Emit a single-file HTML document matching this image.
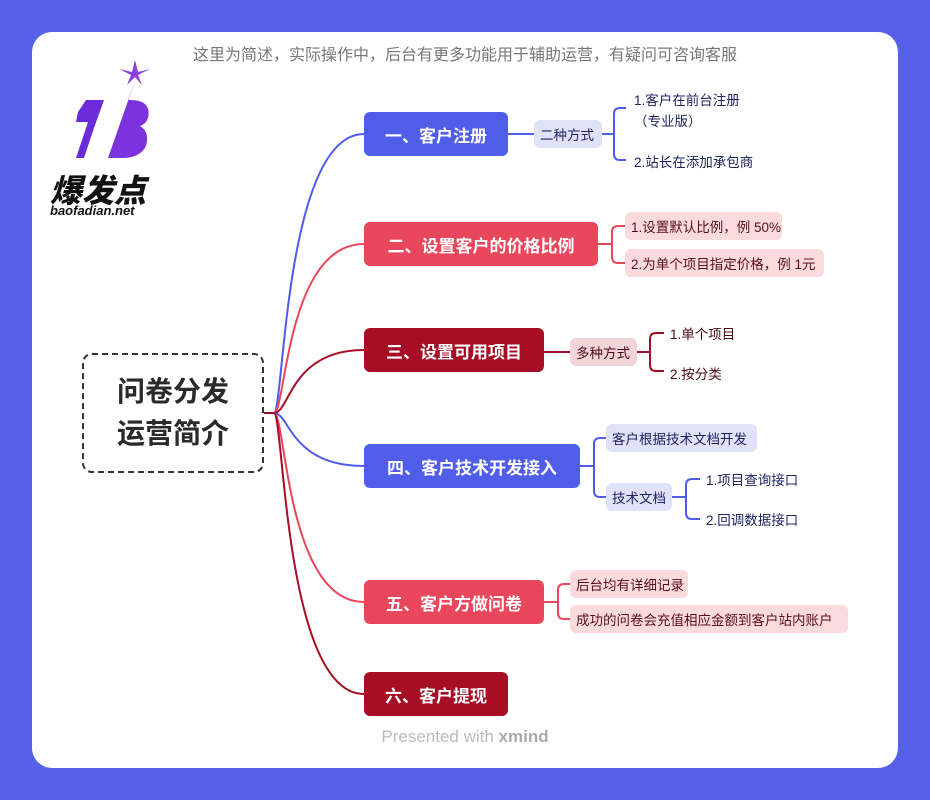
<!DOCTYPE html>
<html><head><meta charset="utf-8"><style>
body{margin:0;width:930px;height:800px;background:#5660e8;font-family:"Liberation Sans","Noto Sans CJK SC",sans-serif;position:relative;overflow:hidden}
.card{position:absolute;left:32px;top:32px;width:866px;height:736px;background:#fff;border-radius:20px}
.a{position:absolute;white-space:nowrap}
.n{position:absolute;color:#fff;font-weight:bold;font-size:17px;border-radius:6px;display:flex;align-items:center;justify-content:center;height:44px}
.s{position:absolute;font-size:13.5px;border-radius:6px;display:flex;align-items:center;padding:0 6px;height:28px;box-sizing:border-box;white-space:nowrap}
.t{position:absolute;font-size:13.5px;white-space:nowrap}
</style></head><body>
<div class="card"></div>
<div class="a" style="left:0;width:930px;text-align:center;top:41px;font-size:16px;color:#777">这里为简述，实际操作中，后台有更多功能用于辅助运营，有疑问可咨询客服</div>
<svg class="a" style="left:0;top:0" width="930" height="800">
<g fill="none" stroke-width="2">
<path d="M264 413H274" stroke="#a50e24"/>
<path d="M274 413C284 413 284 134 364 134" stroke="#4f5de8"/>
<path d="M274 413C286 413 286 244 364 244" stroke="#e8475c"/>
<path d="M274 413C290 413 290 350 364 350" stroke="#a50e24"/>
<path d="M274 413C290 413 290 466 364 466" stroke="#4f5de8"/>
<path d="M274 413C286 413 286 602 364 602" stroke="#e8475c"/>
<path d="M274 413C284 413 284 694 364 694" stroke="#a50e24"/>
<path d="M508 134H534M602 134H614M626 108H620Q614 108 614 114V154Q614 160 620 160H626" stroke="#4f5de8"/>
<path d="M598 244H612M625 226H618Q612 226 612 232V257Q612 263 618 263H625" stroke="#e8475c"/>
<path d="M544 352H570M637 352H650M664 333H656Q650 333 650 339V365Q650 371 656 371H664" stroke="#a50e24"/>
<path d="M580 466H594M606 438H600Q594 438 594 444V491Q594 497 600 497H606M672 497H686M700 479H692Q686 479 686 485V513Q686 519 692 519H700" stroke="#4f5de8"/>
<path d="M544 602H558M570 584H564Q558 584 558 590V613Q558 619 564 619H570" stroke="#e8475c"/>
</g>
<path d="M78 112L86 100H104L94 128L84 158H76L88 122H76Z" fill="#6c2bd9"/>
<path d="M108 158L136 78L128 100H130Q152 100 148 118Q146 124 140 126Q150 132 146 146Q140 158 122 158Z" fill="#7b33dd"/>
<path d="M132 72l3-12 3 12 12-3-12 6 4 10-7-8-8 8 4-10-12-6z" fill="#8a3fe0"/>
</svg>
<div class="a" style="left:50px;top:166px;font-size:32px;font-weight:900;font-style:italic;color:#111">爆发点</div>
<div class="a" style="left:50px;top:203px;font-size:13px;font-weight:bold;font-style:italic;color:#111">baofadian.net</div>
<div class="a" style="left:82px;top:353px;width:182px;height:120px;box-sizing:border-box;border:2px dashed #333;border-radius:10px;display:flex;align-items:center;justify-content:center;text-align:center;font-size:28px;font-weight:bold;color:#2a2a2a;line-height:42px">问卷分发<br>运营简介</div>
<div class="n" style="left:364px;top:112px;width:144px;background:#4f5de8">一、客户注册</div>
<div class="n" style="left:364px;top:222px;width:234px;background:#e8475c">二、设置客户的价格比例</div>
<div class="n" style="left:364px;top:328px;width:180px;background:#a50e24">三、设置可用项目</div>
<div class="n" style="left:364px;top:444px;width:216px;background:#4f5de8">四、客户技术开发接入</div>
<div class="n" style="left:364px;top:580px;width:180px;background:#e8475c">五、客户方做问卷</div>
<div class="n" style="left:364px;top:672px;width:144px;background:#a50e24">六、客户提现</div>
<div class="s" style="left:534px;top:120px;width:68px;background:#e0e2fa;color:#1e2460">二种方式</div>
<div class="t" style="left:634px;top:90px;color:#1e2460;line-height:21px">1.客户在前台注册<br>（专业版）</div>
<div class="t" style="left:634px;top:151px;color:#1e2460">2.站长在添加承包商</div>
<div class="s" style="left:625px;top:212px;width:157px;background:#fbdadd;color:#5a1018">1.设置默认比例，例 50%</div>
<div class="s" style="left:625px;top:249px;width:199px;background:#fbdadd;color:#5a1018">2.为单个项目指定价格，例 1元</div>
<div class="s" style="left:570px;top:338px;width:67px;background:#f0d4d7;color:#4a0a12">多种方式</div>
<div class="t" style="left:670px;top:323px;color:#4a0a12">1.单个项目</div>
<div class="t" style="left:670px;top:363px;color:#4a0a12">2.按分类</div>
<div class="s" style="left:606px;top:424px;width:151px;background:#e0e2fa;color:#1e2460">客户根据技术文档开发</div>
<div class="s" style="left:606px;top:483px;width:66px;background:#e0e2fa;color:#1e2460">技术文档</div>
<div class="t" style="left:706px;top:469px;color:#1e2460">1.项目查询接口</div>
<div class="t" style="left:706px;top:509px;color:#1e2460">2.回调数据接口</div>
<div class="s" style="left:570px;top:570px;width:118px;background:#fbdadd;color:#5a1018">后台均有详细记录</div>
<div class="s" style="left:570px;top:605px;width:278px;background:#fbdadd;color:#5a1018">成功的问卷会充值相应金额到客户站内账户</div>
<div class="a" style="left:0;width:930px;text-align:center;top:727px;font-size:17px;color:#bbb">Presented with <b style="color:#aaa">xmind</b></div>
</body></html>
